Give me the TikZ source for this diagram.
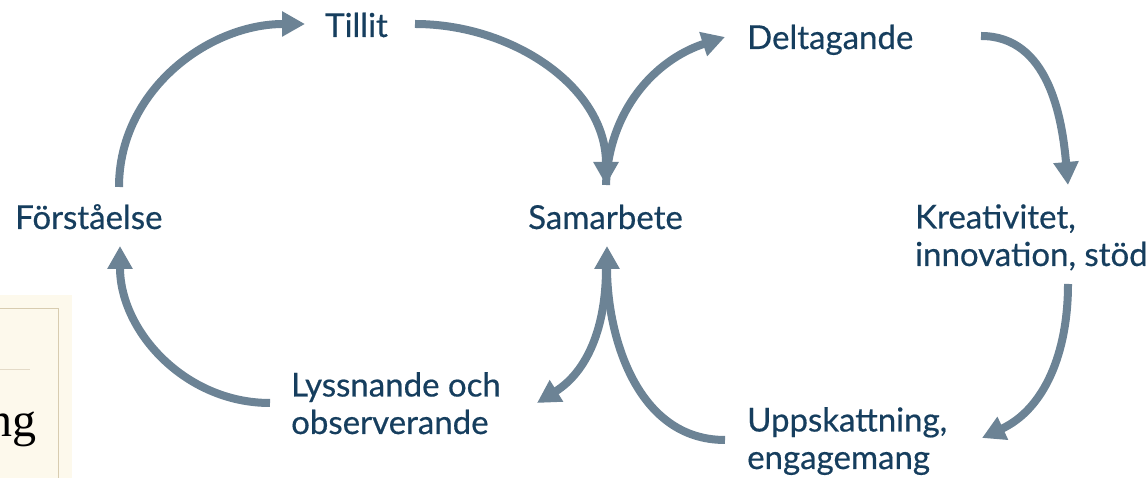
\documentclass[tikz,border=0pt]{standalone}
\usepackage{fontspec}
\setmainfont{Lato}
\newfontfamily\cyclefont{Lato}[FakeBold=0.5]
\newfontfamily\slidefont{Liberation Serif}
\usetikzlibrary{arrows.meta}
\definecolor{CycleArrow}{RGB}{108,131,149}
\definecolor{CycleText}{RGB}{22,62,94}
\definecolor{SlideCream}{RGB}{253,249,236}
\definecolor{SlideEdge}{RGB}{216,204,176}
\tikzstyle{StepLabel}=[anchor=base west, inner sep=0pt, text=CycleText, font=\cyclefont\fontsize{33}{37.5}\selectfont, align=left]
\tikzstyle{CycleEdge}=[-{Triangle[length=23pt,width=24pt]}, line width=8pt, draw=CycleArrow]

\begin{document}
\begin{tikzpicture}[x=1pt,y=1pt]
\useasboundingbox (0,0) rectangle (1146,478);

% corner of the next slide
\fill[SlideCream] (0,0) rectangle (72,183);
\draw[SlideEdge, line width=1pt] (0,169) -- (58,169) -- (58,0);
\draw[SlideEdge!70, line width=0.8pt] (0,109) -- (30,109);
\node[anchor=base east, inner sep=0pt, font=\slidefont\fontsize{48}{50}\selectfont](ng) at (37,41) {ng};

% labels (multi-line ones sit on their last line)
\node[StepLabel](forst) at (15,249) {Förståelse};
\node[StepLabel](tillit) at (325,441) {Tillit};
\node[StepLabel](sam) at (528,249) {Samarbete};
\node[StepLabel](delt) at (747,429) {Deltagande};
\node[StepLabel](kreat) at (915,212) {Kreativitet,\\innovation, stöd};
\node[StepLabel](upps) at (747,9) {Uppskattning,\\engagemang};
\node[StepLabel](lyss) at (291,44) {Lyssnande och\\observerande};

\draw[CycleEdge]([shift={(104,42)}]forst.base west) to[out=90,in=180] ([shift={(-20,13)}]tillit.base west);
\draw[CycleEdge]([shift={(90,13)}]tillit.base west) to[out=0,in=90] ([shift={(78,44)}]sam.base west);
\draw[CycleEdge]([shift={(78,44)}]sam.base west) to[out=88,in=198] ([shift={(-22,12)}]delt.base west);
\draw[CycleEdge]([shift={(234,13)}]delt.base west) to[out=0,in=95] ([shift={(153,81)}]kreat.base west);
\draw[CycleEdge]([shift={(153,-18)}]kreat.base west) to[out=-90,in=25] ([shift={(235,31)}]upps.base west);
\draw[CycleEdge]([shift={(-22,29)}]upps.base west) to[out=180,in=-90] ([shift={(79,-17)}]sam.base west);
\draw[CycleEdge]([shift={(78,-39)}]sam.base west) to[out=-90,in=32] ([shift={(246,31)}]lyss.base west);
\draw[CycleEdge]([shift={(-21,31)}]lyss.base west) to[out=180,in=-90] ([shift={(105,-17)}]forst.base west);
\end{tikzpicture}
\end{document}
